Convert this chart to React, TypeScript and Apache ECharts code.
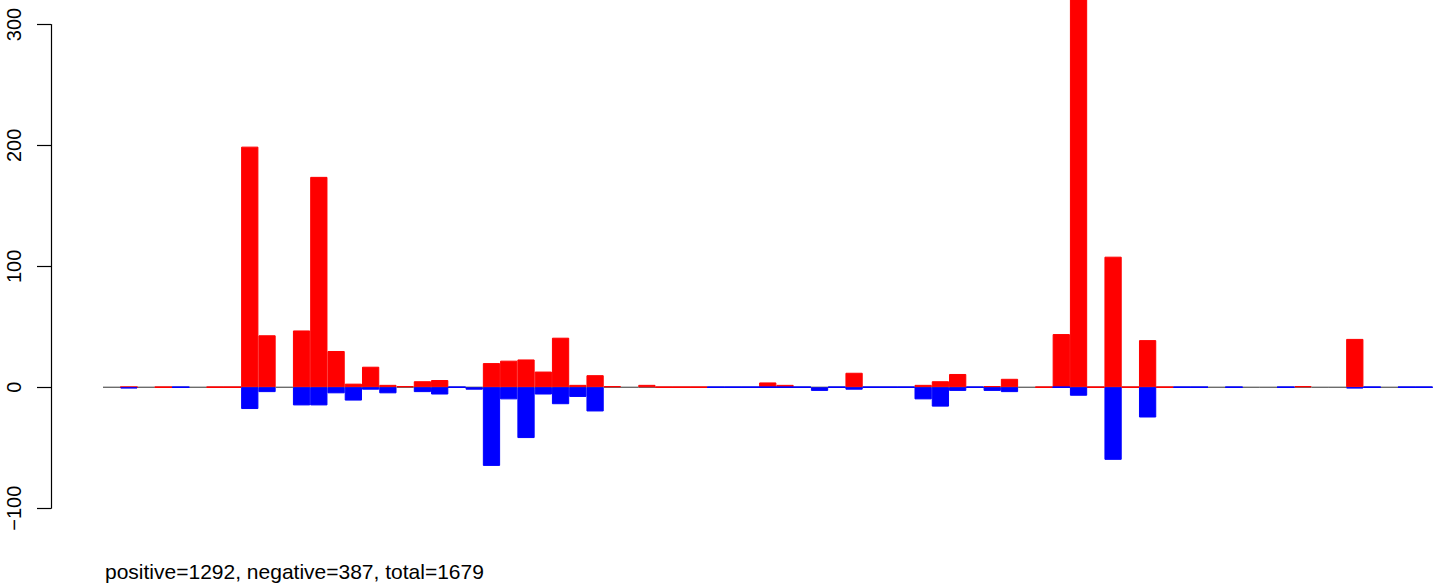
import React, { useEffect, useRef } from "react";
import * as echarts from "echarts";

const categories: string[] = Array.from({ length: 77 }, (_, i) => String(i + 1));

// red bars (positive counts); null = no bar, 0 = zero line
const positive: (number | null)[] = [
  null, 0, null, 0, null, null, 0, 0, 199, 43,
  null, 47, 174, 30, 3, 17, 2, 1, 5, 6,
  null, null, 20, 22, 23, 13, 41, 2, 10, 1,
  null, 2, 0, 0, 0, null, null, null, 4, 2,
  null, null, null, 12, null, null, null, 2, 5, 11,
  null, 1, 7, null, 0, 44, 355, 0, 108, 0,
  39, 0, null, null, null, null, null, null, null, 1,
  null, null, 40, null, null, null, null,
];

// blue bars (negative counts)
const negative: (number | null)[] = [
  null, -1, null, null, 0, null, null, null, -18, -4,
  null, -15, -15, -5, -11, -2, -5, null, -4, -6,
  0, -2, -65, -10, -42, -6, -14, -8, -20, null,
  null, null, null, null, null, 0, 0, 0, 0, 0,
  0, -3, 0, -2, 0, 0, 0, -10, -16, -3,
  0, -3, -4, null, null, 0, -7, null, -60, null,
  -25, null, 0, 0, null, 0, null, null, 0, null,
  null, null, -1, 0, null, 0, 0,
];

const yTicks = [-100, 0, 100, 200, 300];
const footer = "positive=1292, negative=387, total=1679";

const FONT = "'Liberation Sans', Arial, Helvetica, sans-serif";

export default function App() {
  const ref = useRef<HTMLDivElement>(null);

  useEffect(() => {
    document.body.style.margin = "0";
    const chart = echarts.init(ref.current!, null, { renderer: "svg" });

    const zeroPoints = (arr: (number | null)[]) =>
      arr.map((v, i) => (v === 0 ? [i, 0] : null)).filter((d) => d !== null);
    const allPoints = categories.map((_, i) => [i, 0]);

    const segment = (color: string, width: number) => (params: any, api: any) => {
      const c = api.coord([api.value(0), 0]);
      const w = api.size([1, 0])[0];
      return {
        type: "line",
        shape: { x1: c[0] - w / 2, y1: c[1], x2: c[0] + w / 2, y2: c[1] },
        style: { stroke: color, lineWidth: width },
      };
    };

    chart.setOption({
      animation: false,
      backgroundColor: "#ffffff",
      grid: { left: 103, right: 16.5, top: 24.5, bottom: 77.8, containLabel: false },
      xAxis: {
        type: "category",
        data: categories,
        boundaryGap: true,
        axisLine: { show: false },
        axisTick: { show: false },
        axisLabel: { show: false },
        splitLine: { show: false },
      },
      yAxis: {
        type: "value",
        min: yTicks[0],
        max: yTicks[yTicks.length - 1],
        interval: 100,
        offset: 52,
        axisLine: { show: true, lineStyle: { color: "#000", width: 1.2 } },
        axisTick: { show: true, length: 14, lineStyle: { color: "#000", width: 1.2 } },
        axisLabel: {
          show: true,
          rotate: 90,
          margin: 27,
          fontSize: 20,
          color: "#000",
          fontFamily: FONT,
          formatter: (v: number) => String(v).replace("-", "\u2212"),
        },
        splitLine: { show: false },
      },
      series: [
        {
          type: "custom",
          renderItem: segment("#606060", 1.3),
          data: allPoints,
          encode: { x: 0, y: 1 },
          clip: false,
          z: 1,
          silent: true,
        },
        {
          type: "bar",
          data: positive,
          barWidth: "100%",
          barGap: "-100%",
          itemStyle: { color: "#ff0000", borderColor: "#ff0000", borderWidth: 1 },
          clip: false,
          z: 2,
          silent: true,
        },
        {
          type: "custom",
          renderItem: segment("#ff0000", 1.5),
          data: zeroPoints(positive),
          encode: { x: 0, y: 1 },
          clip: false,
          z: 3,
          silent: true,
        },
        {
          type: "bar",
          data: negative,
          barWidth: "100%",
          barGap: "-100%",
          itemStyle: { color: "#0000ff", borderColor: "#0000ff", borderWidth: 1 },
          clip: false,
          z: 4,
          silent: true,
        },
        {
          type: "custom",
          renderItem: segment("#0000ff", 1.5),
          data: zeroPoints(negative),
          encode: { x: 0, y: 1 },
          clip: false,
          z: 5,
          silent: true,
        },
      ],
      graphic: [
        {
          type: "text",
          left: 105,
          top: 561,
          style: {
            text: footer,
            fontSize: 21,
            fontFamily: FONT,
            fill: "#000",
          },
        },
      ],
    });

    return () => chart.dispose();
  }, []);

  return (
    <div
      ref={ref}
      style={{ position: "fixed", left: 0, top: 0, width: 1449, height: 586 }}
    />
  );
}
